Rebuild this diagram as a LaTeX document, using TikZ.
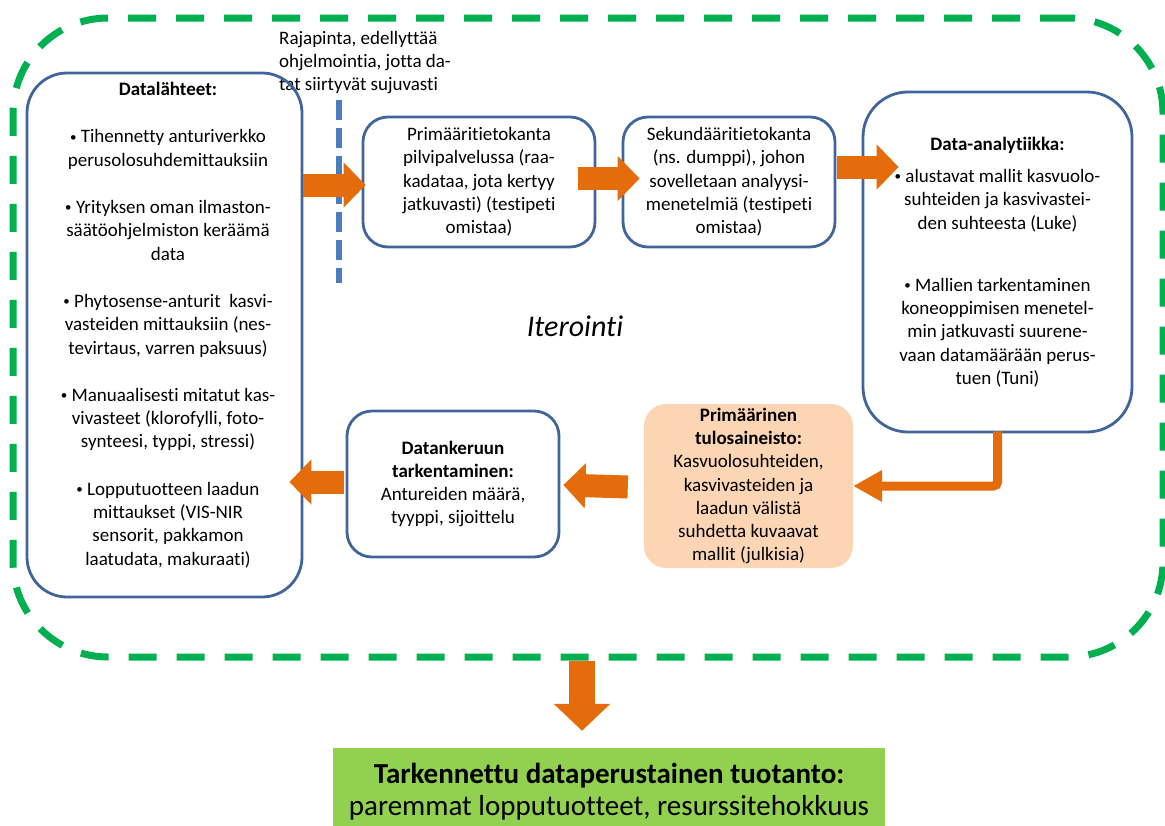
\documentclass[tikz,border=0pt]{standalone}
\usepackage{fontspec}
\setmainfont{Carlito}[Ligatures=NoCommon]
\usetikzlibrary{arrows.meta,calc}
\definecolor{frameg}{HTML}{00B050}
\definecolor{boxblue}{HTML}{41659B}
\definecolor{dashblue}{HTML}{4A7EBB}
\definecolor{arrowor}{HTML}{E46C0A}
\definecolor{lightor}{HTML}{FCD5B5}
\definecolor{greenfill}{HTML}{92D050}
\newcommand\mybody{\fontsize{19pt}{23.3pt}\selectfont}
\newcommand\mybul{\raisebox{0.08em}{\fontsize{13pt}{13pt}\selectfont •}\ }
\begin{document}
\begin{tikzpicture}[x=1pt,y=-1pt,
  box/.style={draw=boxblue, line width=2.8pt, align=center, inner sep=0pt, font=\mybody},
  plain/.style={align=center, inner sep=0pt, font=\mybody},
  blockarrow/.style={draw=arrowor, line width=23pt, -{Triangle[length=22pt,width=44pt]}},
  elbowarrow/.style={draw=arrowor, line width=9pt, rounded corners=4pt, -{Triangle[length=29pt,width=30pt]}},
  downarrow/.style={draw=arrowor, line width=26pt, -{Triangle[length=27pt,width=55pt]}}
]
\useasboundingbox (0,0) rectangle (1165,825);

% outer dashed frame
\node[draw=frameg, line width=7pt, dash pattern=on 28pt off 20pt, rounded corners=95pt,
      minimum width=1150pt, minimum height=639pt, inner sep=0pt] (frame) at (588,337.5) {};

% blue dashed interface line
\draw[dashblue, line width=6pt, dash pattern=on 20pt off 8pt] (339,100) -- (339,283);

% note
\node[plain, align=left, anchor=north west] (note) at (279,31)
  {Rajapinta, edellyttää\\ohjelmointia, jotta da-\\tat siirtyvät sujuvasti};

% boxes
\node[box, rounded corners=40pt, minimum width=275pt, minimum height=524pt] (dl) at (164.5,335) {};
\node[plain] (dltext) at (168,325) {\textbf{Datalähteet:}\\[24pt]
  \mybul Tihennetty anturiverkko\\perusolosuhdemittauksiin\\[24pt]
  \mybul Yrityksen oman ilmaston-\\säätöohjelmiston keräämä\\data\\[24pt]
  \mybul Phytosense-anturit~ kasvi-\\vasteiden mittauksiin (nes-\\tevirtaus, varren paksuus)\\[24pt]
  \mybul Manuaalisesti mitatut kas-\\vivasteet (klorofylli, foto-\\synteesi, typpi, stressi)\\[24pt]
  \mybul Lopputuotteen laadun\\mittaukset (VIS-NIR\\sensorit, pakkamon\\laatudata, makuraati)};

\node[box, rounded corners=25pt, minimum width=232pt, minimum height=130pt] (prim) at (479,182)
  {Primääritietokanta\\pilvipalvelussa (raa-\\kadataa, jota kertyy\\jatkuvasti) (testipeti\\omistaa)};
\node[box, rounded corners=25pt, minimum width=212pt, minimum height=130pt] (sek) at (729,182)
  {Sekundääritietokanta\\(ns. dumppi), johon\\sovelletaan analyysi-\\menetelmiä (testipeti\\omistaa)};
\node[box, rounded corners=45pt, minimum width=269pt, minimum height=340pt] (da) at (997.5,262)
  {\textbf{Data-analytiikka:}\\[9pt]
   \mybul alustavat mallit kasvuolo-\\suhteiden ja kasvivastei-\\den suhteesta (Luke)\\[39pt]
   \mybul Mallien tarkentaminen\\koneoppimisen menetel-\\min jatkuvasti suurene-\\vaan datamäärään perus-\\tuen (Tuni)};
\node[plain, fill=lightor, rounded corners=22pt, minimum width=209pt, minimum height=164pt] (tulos) at (748.5,486)
  {\textbf{Primäärinen}\\\textbf{tulosaineisto:}\\Kasvuolosuhteiden,\\kasvivasteiden ja\\laadun välistä\\suhdetta kuvaavat\\mallit (julkisia)};
\node[box, rounded corners=25pt, minimum width=212pt, minimum height=146pt] (dk) at (453,484)
  {\textbf{Datankeruun}\\\textbf{tarkentaminen:}\\Antureiden määrä,\\tyyppi, sijoittelu};

\node[plain, font=\fontsize{30pt}{36pt}\selectfont\itshape] (iter) at (575,326) {Iterointi};

\node[fill=greenfill, inner sep=0pt, align=center, minimum width=552pt, minimum height=88pt,
      font=\fontsize{29pt}{32pt}\selectfont] (green) at (609,792)
  {\textbf{Tarkennettu dataperustainen tuotanto:}\\paremmat lopputuotteet, resurssitehokkuus};

% arrows
\draw[blockarrow] ($(dl.east |- prim.west)+(0,3)$) -- ($(prim.west)+(4,3)$);
\draw[blockarrow] ($(prim.east)+(-18,-3.5)$) -- ($(sek.west)+(18,-3.5)$);
\draw[blockarrow] ($(sek.east)+(1,-15)$) -- ($(sek.east -| da.west)+(37,-15)$);
\draw[elbowarrow] ($(da.south)+(0,-2)$) |- (tulos.east);
\draw[blockarrow] ($(tulos.west)+(-16,1)$) -- ($(dk.east)+(3,1)$);
\draw[blockarrow] ($(dk.west)+(-2,-2)$) -- ($(dk.west -| dl.east)+(-14,-2)$);
\draw[downarrow] ($(frame.south)+(-6,0)$) -- ($(frame.south |- green.north)+(-6,-17)$);
\end{tikzpicture}
\end{document}
